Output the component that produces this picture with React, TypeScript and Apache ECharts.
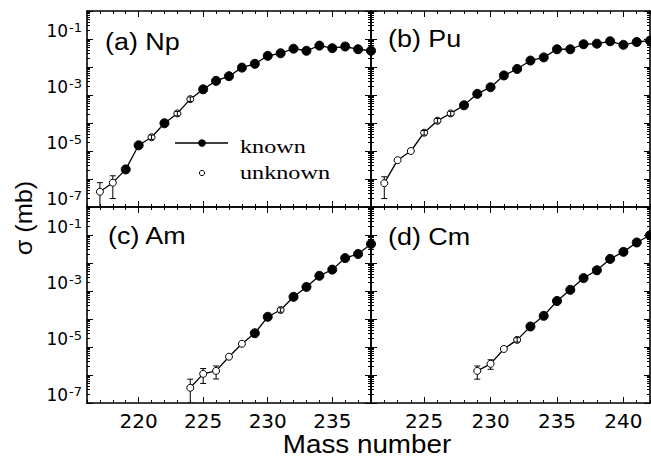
import React, { useEffect, useRef } from "react";
import * as echarts from "echarts";

// ---------- data (σ in mb) ----------
const npMass = [217, 218, 219, 220, 221, 222, 223, 224, 225, 226, 227, 228, 229, 230, 231, 232, 233, 234, 235, 236, 237, 238];
const npSigma = [3.5e-7, 7.4e-7, 2.2e-6, 1.6e-5, 3.1e-5, 9.8e-5, 2.2e-4, 7.1e-4, 1.6e-3, 3.2e-3, 4.7e-3, 9.5e-3, 1.3e-2, 2.5e-2, 3.1e-2, 4.5e-2, 3.8e-2, 5.8e-2, 4.7e-2, 5.4e-2, 4.3e-2, 3.8e-2];
const npStatus = ["u", "u", "k", "k", "u", "k", "u", "u", "k", "k", "k", "k", "k", "k", "k", "k", "k", "k", "k", "k", "k", "k"];
const npErrors = [[217, 1e-7, 7.4e-7], [218, 2.0e-7, 1.3e-6], [219, 1.7e-6, 3.0e-6]];
const npCrossed = [[221, 2.6e-5, 3.7e-5], [223, 1.8e-4, 2.6e-4], [224, 5.9e-4, 8.5e-4]];

const puMass = [222, 223, 224, 225, 226, 227, 228, 229, 230, 231, 232, 233, 234, 235, 236, 237, 238, 239, 240, 241, 242];
const puSigma = [7.1e-7, 4.7e-6, 1.0e-5, 4.5e-5, 1.2e-4, 2.2e-4, 4.3e-4, 1.1e-3, 1.9e-3, 5.0e-3, 8.5e-3, 1.7e-2, 2.2e-2, 4.3e-2, 4.3e-2, 6.5e-2, 6.8e-2, 8.3e-2, 6.2e-2, 7.8e-2, 8.7e-2];
const puStatus = ["u", "u", "u", "u", "u", "u", "k", "k", "k", "k", "k", "k", "k", "k", "k", "k", "k", "k", "k", "k", "k"];
const puErrors = [[222, 2.0e-7, 1.2e-6]];
const puCrossed = [[225, 3.7e-5, 5.4e-5], [226, 1.0e-4, 1.45e-4], [227, 1.8e-4, 2.6e-4]];

const amMass = [224, 225, 226, 227, 228, 229, 230, 231, 232, 233, 234, 235, 236, 237, 238];
const amSigma = [3.5e-7, 1.1e-6, 1.4e-6, 4.5e-6, 1.3e-5, 3.1e-5, 1.2e-4, 2.1e-4, 6.2e-4, 1.4e-3, 3.5e-3, 5.8e-3, 1.5e-2, 2.1e-2, 4.8e-2];
const amStatus = ["u", "u", "u", "u", "u", "k", "k", "u", "k", "k", "k", "k", "k", "k", "k"];
const amErrors = [[224, 1e-7, 7.1e-7], [225, 5.0e-7, 1.7e-6], [226, 7.2e-7, 2.1e-6]];
const amCrossed = [[231, 1.75e-4, 2.5e-4]];

const cmMass = [229, 230, 231, 232, 233, 234, 235, 236, 237, 238, 239, 240, 241, 242];
const cmSigma = [1.4e-6, 2.5e-6, 8.5e-6, 1.8e-5, 5.4e-5, 1.3e-4, 4.4e-4, 1.1e-3, 2.9e-3, 5.5e-3, 1.4e-2, 2.5e-2, 5.4e-2, 9.8e-2];
const cmStatus = ["u", "u", "u", "u", "k", "k", "k", "k", "k", "k", "k", "k", "k", "k"];
const cmErrors = [[229, 7.1e-7, 2.1e-6], [230, 1.6e-6, 3.5e-6]];
const cmCrossed = [[232, 1.5e-5, 2.15e-5]];

const leftTicks = [220, 225, 230, 235];
const rightTicks = [225, 230, 235, 240];
const panelLabels = ["(a) Np", "(b) Pu", "(c) Am", "(d) Cm"];
const legendLabels = ["known", "unknown"];
const yTitle = "σ (mb)";
const xTitle = "Mass number";

const SANS = '"DejaVu Sans", sans-serif';

export default function App() {
  const ref = useRef<HTMLDivElement>(null);

  useEffect(() => {
    const chart = echarts.init(ref.current!, null, { renderer: "svg" });

    const panels = [
      { mass: npMass, sigma: npSigma, status: npStatus, errors: npErrors, crossed: npCrossed, xMin: 216, xMax: 238, majors: leftTicks, showX: false, showY: true, grid: { left: 87, top: 11, width: 284, height: 196 } },
      { mass: puMass, sigma: puSigma, status: puStatus, errors: puErrors, crossed: puCrossed, xMin: 221, xMax: 242, majors: rightTicks, showX: false, showY: false, grid: { left: 371, top: 11, width: 279, height: 196 } },
      { mass: amMass, sigma: amSigma, status: amStatus, errors: amErrors, crossed: amCrossed, xMin: 216, xMax: 238, majors: leftTicks, showX: true, showY: true, grid: { left: 87, top: 207, width: 284, height: 196 } },
      { mass: cmMass, sigma: cmSigma, status: cmStatus, errors: cmErrors, crossed: cmCrossed, xMin: 221, xMax: 242, majors: rightTicks, showX: true, showY: false, grid: { left: 371, top: 207, width: 279, height: 196 } },
    ];

    const black = "#000";
    const frame = { show: true, lineStyle: { color: black, width: 1.6 } };

    const grids: any[] = [];
    const xAxes: any[] = [];
    const yAxes: any[] = [];
    const series: any[] = [];

    const errRender = (cap: number) => (params: any, api: any) => {
      const x = api.value(0);
      const lo = api.coord([x, api.value(1)]);
      const hi = api.coord([x, api.value(2)]);
      const style = { stroke: black, lineWidth: 1, fill: "none" };
      return {
        type: "group",
        children: [
          { type: "line", shape: { x1: lo[0], y1: lo[1], x2: hi[0], y2: hi[1] }, style },
          { type: "line", shape: { x1: lo[0] - cap, y1: lo[1], x2: lo[0] + cap, y2: lo[1] }, style },
          { type: "line", shape: { x1: hi[0] - cap, y1: hi[1], x2: hi[0] + cap, y2: hi[1] }, style },
        ],
      };
    };

    panels.forEach((p, i) => {
      grids.push({ ...p.grid, containLabel: false });
      const xBase = xAxes.length;
      const mkX = (position: string, major: boolean, labels: boolean) => ({
        type: "value",
        gridIndex: i,
        position,
        min: p.xMin,
        max: p.xMax,
        ...(major ? {} : { interval: 1 }),
        axisLine: major ? frame : { show: false },
        axisTick: major
          ? { show: true, inside: true, length: 6, customValues: p.majors, lineStyle: { color: black, width: 1 } }
          : { show: true, inside: true, length: 3, lineStyle: { color: black, width: 1 } },
        axisLabel: labels
          ? { show: true, customValues: p.majors, color: black, fontFamily: SANS, fontSize: 20, margin: 8 }
          : { show: false },
        splitLine: { show: false },
      });
      xAxes.push(mkX("bottom", true, p.showX));
      xAxes.push(mkX("bottom", false, false));
      xAxes.push(mkX("top", true, false));
      xAxes.push(mkX("top", false, false));

      const yBase = yAxes.length;
      const mkY = (position: string, labels: boolean) => ({
        type: "log",
        logBase: 10,
        gridIndex: i,
        position,
        min: 1e-7,
        max: 1,
        axisLine: frame,
        axisTick: { show: true, inside: true, length: 6, lineStyle: { color: black, width: 1 } },
        minorTick: { show: true, splitNumber: 9, length: 3, lineStyle: { color: black, width: 1 } },
        axisLabel: labels
          ? {
              show: true,
              margin: 5,
              color: black,
              fontFamily: SANS,
              verticalAlign: "bottom",
              formatter: (v: number) => {
                const e = Math.round(Math.log10(v));
                return e % 2 === 0 ? "" : `{b|10}{s|${e}}`;
              },
              rich: {
                b: { fontSize: 17, fontFamily: SANS, color: black, verticalAlign: "bottom", lineHeight: 18 },
                s: { fontSize: 13, fontFamily: SANS, color: black, verticalAlign: "top", lineHeight: 18, padding: [0, 0, 0, 1] },
              },
            }
          : { show: false },
        splitLine: { show: false },
        minorSplitLine: { show: false },
      });
      yAxes.push(mkY("left", p.showY));
      yAxes.push(mkY("right", false));

      series.push({
        type: "custom",
        xAxisIndex: xBase,
        yAxisIndex: yBase,
        z: 2,
        clip: true,
        data: p.errors,
        encode: { x: 0, y: [1, 2] },
        renderItem: errRender(3),
        silent: true,
      });
      series.push({
        type: "line",
        xAxisIndex: xBase,
        yAxisIndex: yBase,
        z: 3,
        clip: true,
        symbol: "circle",
        showAllSymbol: true,
        lineStyle: { color: black, width: 1.3 },
        emphasis: { disabled: true },
        silent: true,
        data: p.mass.map((m, k) => ({
          value: [m, p.sigma[k]],
          symbolSize: p.status[k] === "k" ? 9 : 7,
          itemStyle: { color: p.status[k] === "k" ? black : "#fff", borderColor: black, borderWidth: 1 },
        })),
      });
      series.push({
        type: "custom",
        xAxisIndex: xBase,
        yAxisIndex: yBase,
        z: 4,
        clip: true,
        data: p.crossed,
        encode: { x: 0, y: [1, 2] },
        renderItem: errRender(2.5),
        silent: true,
      });
    });

    const labelPos = [
      [105, 42],
      [388, 39],
      [108, 236],
      [388, 236.5],
    ];

    const graphic: any[] = [
      ...panelLabels.map((t, i) => ({
        type: "text",
        x: labelPos[i][0],
        y: labelPos[i][1],
        scaleX: 1.17,
        z: 10,
        style: { text: t, x: 0, y: 0, font: '23px "Liberation Sans", Arial, sans-serif', fill: black, align: "left", verticalAlign: "middle" },
      })),
      {
        type: "text",
        x: 367,
        y: 444.5,
        scaleX: 1.07,
        style: { text: xTitle, x: 0, y: 0, font: '26px "Liberation Sans", Arial, sans-serif', fill: black, align: "center", verticalAlign: "middle" },
      },
      {
        type: "text",
        x: 24,
        y: 218,
        rotation: Math.PI / 2,
        scaleX: 1.1,
        style: { text: yTitle, x: 0, y: 0, font: '23px "Liberation Sans", Arial, sans-serif', fill: black, align: "center", verticalAlign: "middle" },
      },
      // legend
      { type: "line", z: 10, shape: { x1: 175, y1: 143, x2: 228, y2: 143 }, style: { stroke: black, lineWidth: 1.5 } },
      { type: "circle", z: 11, shape: { cx: 202, cy: 143, r: 3.8 }, style: { fill: black } },
      { type: "circle", z: 11, shape: { cx: 202, cy: 173, r: 2.6 }, style: { fill: "#fff", stroke: black, lineWidth: 1 } },
      {
        type: "text",
        x: 240,
        y: 147,
        scaleX: 1.3,
        z: 10,
        style: { text: legendLabels[0], x: 0, y: 0, font: '18.6px "Liberation Serif", "Times New Roman", serif', fill: black, align: "left", verticalAlign: "middle" },
      },
      {
        type: "text",
        x: 240,
        y: 173,
        scaleX: 1.3,
        z: 10,
        style: { text: legendLabels[1], x: 0, y: 0, font: '18.6px "Liberation Serif", "Times New Roman", serif', fill: black, align: "left", verticalAlign: "middle" },
      },
    ];

    chart.setOption({
      animation: false,
      backgroundColor: "#fff",
      grid: grids,
      xAxis: xAxes,
      yAxis: yAxes,
      series,
      graphic,
    });

    return () => chart.dispose();
  }, []);

  return <div ref={ref} style={{ position: "fixed", left: 0, top: 0, width: 651, height: 459, background: "#fff" }} />;
}
